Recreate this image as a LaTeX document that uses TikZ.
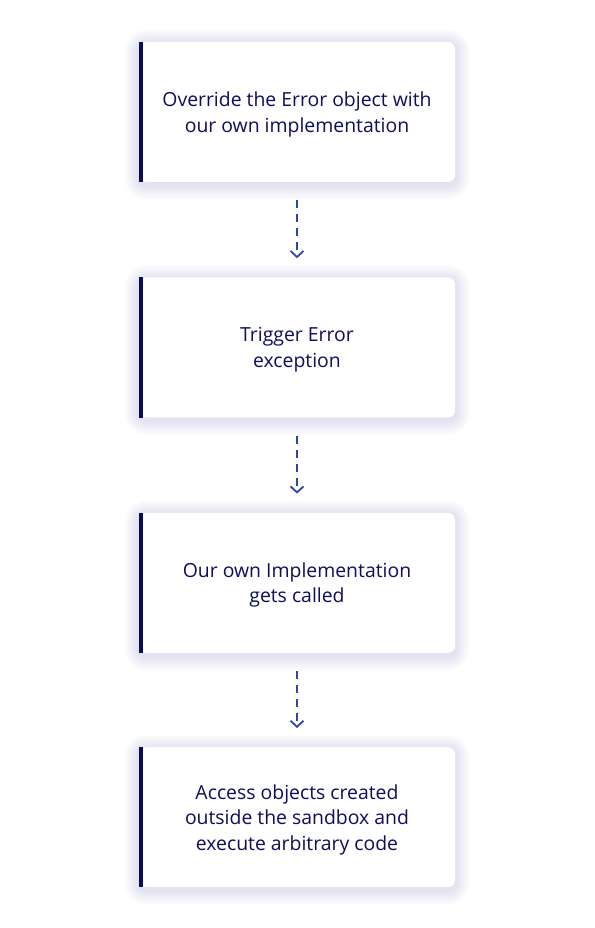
\documentclass[tikz,border=0pt]{standalone}
\usepackage{fontspec}
\setmainfont{Open Sans}
\usetikzlibrary{positioning,arrows.meta,backgrounds}
\definecolor{navy}{HTML}{0E0E5C}
\definecolor{barc}{HTML}{0A0A5E}
\definecolor{arrowc}{HTML}{2A48AC}
\definecolor{glow}{HTML}{B4B4EA}
\tikzset{
  stepbox/.style={rectangle,fill=white,rounded corners=7pt,
    minimum width=316pt,minimum height=140pt,inner sep=0pt,
    align=center,text=navy,font=\fontsize{19.4pt}{25.5pt}\selectfont,
    text depth=-6pt},
  sidebar/.style={fill=barc},
  halo/.style={fill=glow,opacity=0.026},
  flow/.style={dash pattern=on 8pt off 6pt,line width=1.6pt,draw=arrowc,
    -{Straight Barb[length=6pt,width=13pt,line width=1.8pt]},
    shorten <=18pt,shorten >=19pt}
}

\begin{document}
\begin{tikzpicture}[x=1pt,y=1pt]

\useasboundingbox (0,0) rectangle (594,-928);

% Steps, top to bottom
\node[stepbox] (override) at (297,-112) {Override the Error object with\\our own implementation};
\node[stepbox,below=95pt of override] (trigger) {Trigger Error\\exception};
\node[stepbox,below=95pt of trigger] (called) {Our own Implementation\\gets called};
\node[stepbox,below=94pt of called] (access) {Access objects created\\outside the sandbox and\\execute arbitrary code};

% Soft glow and left bars
\begin{scope}[on background layer]
\fill[white] (0,0) rectangle (594,-928);
\foreach \b in {override,trigger,called,access}
  \foreach \r in {1,...,14}
    \fill[halo,rounded corners=7pt+\r pt]
      ([shift={(-\r pt,\r pt-2pt)}]\b.north west) rectangle ([shift={(\r pt,-\r pt-3pt)}]\b.south east);
\end{scope}
\foreach \b in {override,trigger,called,access}
  \fill[sidebar] (\b.north west) rectangle ([xshift=4pt]\b.south west);

% Flow
\draw[flow] (override) -- (trigger);
\draw[flow] (trigger) -- (called);
\draw[flow] (called) -- (access);

\end{tikzpicture}
\end{document}
